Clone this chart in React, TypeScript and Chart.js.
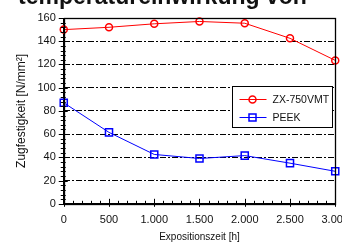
import React, { useEffect, useRef } from "react";
import { Chart, registerables } from "chart.js";

Chart.register(...registerables);

const hours = [0, 500, 1000, 1500, 2000, 2500, 3000];
const zx750vmt = [150, 152, 155, 157, 155.5, 142.5, 123.5];
const peek = [87, 61.5, 42.5, 39, 41.5, 35, 28];
const seriesNames = ["ZX-750VMT", "PEEK"];
const seriesColors = ["#ff0000", "#0000ff"];
const titleText = "temperatureinwirkung von";
const xTitle = "Expositionszeit [h]";
const yTitle = "Zugfestigkeit [N/mm²]";

const FONT = "'Liberation Sans', Arial, Helvetica, sans-serif";

function fmtDe(v: number): string {
  if (v >= 1000) {
    const t = Math.floor(v / 1000);
    const r = String(Math.round(v % 1000)).padStart(3, "0");
    return `${t}.${r}`;
  }
  return String(v);
}

const decoPlugin = {
  id: "deco",
  afterDraw(chart: any) {
    const { ctx, chartArea: a, scales } = chart;
    const xs = scales.x;
    const ys = scales.y;
    ctx.save();
    ctx.strokeStyle = "#000";
    ctx.lineWidth = 1;
    ctx.setLineDash([]);
    // y ticks (major + minor)
    for (let v = 0; v <= 160; v += 4) {
      const py = Math.round(ys.getPixelForValue(v)) + 0.5;
      const major = v % 20 === 0;
      ctx.beginPath();
      ctx.moveTo(a.left - (major ? 5 : 3), py);
      ctx.lineTo(a.left + (major ? 4 : 2), py);
      ctx.stroke();
    }
    // x ticks
    for (let v = 0; v <= 3000; v += 100) {
      const px = Math.round(xs.getPixelForValue(v)) + 0.5;
      const major = v % 500 === 0;
      ctx.beginPath();
      ctx.moveTo(px, a.bottom + (major ? 3 : 0));
      ctx.lineTo(px, a.bottom - (major ? 5 : 3));
      ctx.stroke();
    }
    // frame
    ctx.lineWidth = 1.3;
    ctx.strokeRect(
      Math.round(a.left) + 0.5,
      Math.round(a.top) + 0.5,
      Math.round(a.right - a.left),
      Math.round(a.bottom - a.top)
    );

    // legend
    const bx = Math.round(a.right) - 103 + 0.5;
    const by = Math.round(ys.getPixelForValue(101.5)) + 0.5;
    const bw = 100;
    const bh = 41;
    ctx.fillStyle = "#fff";
    ctx.fillRect(bx, by, bw, bh);
    ctx.lineWidth = 1;
    ctx.strokeStyle = "#000";
    ctx.strokeRect(bx, by, bw, bh);
    ctx.font = `10.5px ${FONT}`;
    ctx.textBaseline = "middle";
    ctx.textAlign = "left";
    chart.data.datasets.forEach((ds: any, i: number) => {
      const ly = Math.round(by + 12 + i * 18) + 0.5;
      ctx.strokeStyle = ds.borderColor;
      ctx.lineWidth = 1;
      ctx.beginPath();
      ctx.moveTo(bx + 7, ly);
      ctx.lineTo(bx + 34, ly);
      ctx.stroke();
      const mx = bx + 20;
      ctx.lineWidth = 1.5;
      ctx.beginPath();
      if (ds.pointStyle === "rect") {
        ctx.rect(mx - 3.5, ly - 3.5, 7, 7);
      } else {
        ctx.arc(mx, ly, 3.5, 0, Math.PI * 2);
      }
      ctx.stroke();
      ctx.fillStyle = "#111";
      ctx.fillText(ds.label, bx + 40, ly + 0.5);
    });

    // clipped title at the top
    ctx.fillStyle = "#111";
    ctx.font = `bold 23px ${FONT}`;
    ctx.textBaseline = "alphabetic";
    ctx.textAlign = "left";
    ctx.fillText(titleText, 18, 4);
    ctx.restore();
  },
};

export default function App() {
  const ref = useRef<HTMLCanvasElement | null>(null);

  useEffect(() => {
    if (!ref.current) return;
    Chart.defaults.font.family = FONT;
    const chart = new Chart(ref.current, {
      type: "line",
      data: {
        datasets: [
          {
            label: seriesNames[0],
            data: hours.map((h, i) => ({ x: h, y: zx750vmt[i] })),
            borderColor: seriesColors[0],
            backgroundColor: "rgba(0,0,0,0)",
            borderWidth: 1,
            pointStyle: "circle",
            pointRadius: 3.5,
            pointBorderWidth: 1.5,
            pointBorderColor: seriesColors[0],
            pointBackgroundColor: "rgba(0,0,0,0)",
            tension: 0,
            clip: false,
          } as any,
          {
            label: seriesNames[1],
            data: hours.map((h, i) => ({ x: h, y: peek[i] })),
            borderColor: seriesColors[1],
            backgroundColor: "rgba(0,0,0,0)",
            borderWidth: 1,
            pointStyle: "rect",
            pointRadius: 5,
            pointBorderWidth: 1.5,
            pointBorderColor: seriesColors[1],
            pointBackgroundColor: "rgba(0,0,0,0)",
            tension: 0,
            clip: false,
          } as any,
        ],
      },
      options: {
        animation: false,
        responsive: false,
        devicePixelRatio: 1,
        layout: { padding: { top: 18, left: 14, right: 0, bottom: 0 } },
        plugins: {
          legend: { display: false },
          tooltip: { enabled: false },
          title: { display: false },
        },
        scales: {
          x: {
            type: "linear",
            min: 0,
            max: 3000,
            ticks: {
              stepSize: 500,
              color: "#111",
              font: { size: 11 },
              padding: 5,
              maxRotation: 0,
              callback: (v: any) => fmtDe(Number(v)),
            },
            grid: { display: false, drawTicks: true, tickLength: 5, tickColor: "rgba(0,0,0,0)" },
            border: { display: true, color: "#000", width: 1 },
            title: {
              display: true,
              text: xTitle,
              color: "#111",
              font: { size: 10, lineHeight: 1 },
              padding: { top: 0, bottom: 0 },
            },
          },
          y: {
            type: "linear",
            min: 0,
            max: 160,
            ticks: {
              stepSize: 20,
              color: "#111",
              font: { size: 11 },
              padding: 3,
            },
            grid: {
              color: (c: any) =>
                c.tick && c.tick.value > 0 && c.tick.value < 160 ? "#000" : "rgba(0,0,0,0)",
              lineWidth: 1,
              drawTicks: true,
              tickLength: 5,
              tickColor: "rgba(0,0,0,0)",
            },
            border: { display: true, color: "#000", width: 1, dash: [6, 2, 2, 2] },
            title: {
              display: true,
              text: yTitle,
              color: "#111",
              font: { size: 12 },
              padding: { top: 0, bottom: 6 },
            },
          },
        },
      } as any,
      plugins: [decoPlugin],
    });
    return () => chart.destroy();
  }, []);

  return (
    <div
      style={{
        position: "fixed",
        left: 0,
        top: 0,
        width: 342,
        height: 242,
        overflow: "hidden",
        background: "#fff",
      }}
    >
      <canvas ref={ref} width={354} height={242} style={{ display: "block" }} />
    </div>
  );
}
